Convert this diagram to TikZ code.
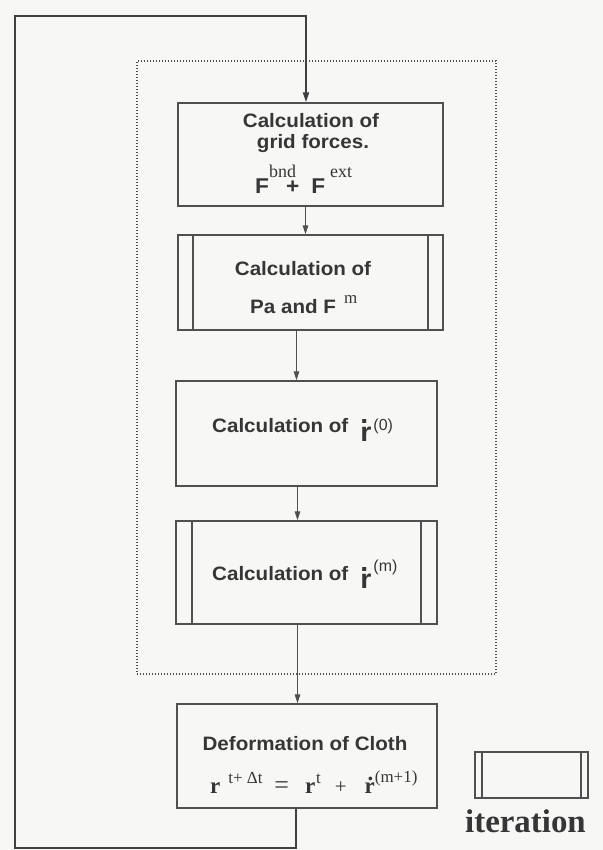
\documentclass[tikz,border=0pt]{standalone}
\usepackage{fontspec}
\usetikzlibrary{arrows.meta}
\newfontfamily\hv[FakeStretch=1.06]{Liberation Sans}
\newfontfamily\hvr{Liberation Sans}
\newfontfamily\tm{Liberation Serif}
\newcommand\hvbf{\hv\bfseries}
\newcommand\fsz[1]{\fontsize{#1}{#1}\selectfont}
\definecolor{lc}{HTML}{505050}
\definecolor{lk}{HTML}{404040}
\definecolor{tc}{HTML}{363636}
\definecolor{bgc}{HTML}{F7F7F5}
\begin{document}
\begin{tikzpicture}[x=1bp,y=-1bp,
  box/.style={draw=lc, line width=1.3bp, inner sep=0pt},
  dbl/.style={path picture={\draw[lc, line width=1.2bp]
      ([xshift=#1]path picture bounding box.north west) -- ([xshift=#1]path picture bounding box.south west)
      ([xshift=-#1]path picture bounding box.north east) -- ([xshift=-#1]path picture bounding box.south east);}},
  txt/.style={anchor=base west, inner sep=0pt, text=tc},
  ctxt/.style={anchor=base, inner sep=0pt, text=tc},
  arr/.style={draw=lc, line width=1.2bp, -{Triangle[length=9bp,width=5.5bp]}},
  loopline/.style={draw=lk, line width=2bp, -{Triangle[length=10bp,width=6bp]}},
  dotbox/.style={draw=lc, line width=1.6bp, dash pattern=on 1.4bp off 1.6bp, inner sep=0pt}]
\fill[bgc] (0,0) rectangle (603,850);
\useasboundingbox (0,0) rectangle (603,850);

% dotted group
\node[dotbox, minimum width=359bp, minimum height=613bp] (grp) at (316.5,367.5) {};

% boxes
\node[box, minimum width=265bp, minimum height=103bp] (b1) at (310.5,154.5) {};
\node[box, dbl=15bp, minimum width=265bp, minimum height=95bp] (b2) at (310.5,282.5) {};
\node[box, minimum width=261bp, minimum height=105bp] (b3) at (306.5,433.5) {};
\node[box, dbl=16bp, minimum width=261bp, minimum height=103bp] (b4) at (306.5,572.5) {};
\node[box, minimum width=260bp, minimum height=104bp] (b5) at (307,756) {};

% legend
\node[box, dbl=7bp, minimum width=113bp, minimum height=46bp] (leg) at (531.5,775) {};
\node[txt] (legt) at (465,832) {\tm\bfseries\fsz{33}iteration};

% texts box 1
\node[ctxt] (t1a) at (311,127) {\hvbf\fsz{19.5}Calculation of};
\node[ctxt] (t1b) at (313,148) {\hvbf\fsz{19.5}grid forces.};
\node[txt] (t1c) at (255,193) {\hvbf\fsz{21.5}F\rlap{\raisebox{16bp}{\tm\mdseries\fsz{18}bnd}}\hspace{17bp}+\hspace{12bp}F\hspace{5bp}\raisebox{16bp}{\tm\mdseries\fsz{18}ext}};

% texts box 2
\node[ctxt] (t2a) at (303,275) {\hvbf\fsz{19.5}Calculation of};
\node[txt] (t2b) at (250,313) {\hvbf\fsz{19.5}Pa and F\hspace{8bp}\raisebox{10bp}{\tm\mdseries\fsz{17}m}};

% texts box 3
\node[txt] (t3) at (212,432) {\hvbf\fsz{19.5}Calculation of\hspace{12bp}\raisebox{-9bp}{\fsz{27}\rlap{\raisebox{18bp}{.}}r}\hspace{2bp}\raisebox{2bp}{\hvr\mdseries\fsz{16}(0)}};

% texts box 4
\node[txt] (t4) at (212,580) {\hvbf\fsz{19.5}Calculation of\hspace{12bp}\raisebox{-8bp}{\fsz{27}\rlap{\raisebox{17bp}{.}}r}\hspace{2bp}\raisebox{9bp}{\hvr\mdseries\fsz{16}(m)}};

% texts box 5
\node[ctxt] (t5a) at (305,750) {\hvbf\fsz{19.5}Deformation of Cloth};
\node[txt] (t5b) at (210,793) {\tm\fsz{23}\textbf{r}\hspace{8bp}\raisebox{10bp}{\fsz{17}t+ Δt}\hspace{12bp}{\fsz{26}=}\hspace{16bp}\textbf{r}\hspace{1bp}\raisebox{10bp}{\fsz{17}t}\hspace{14bp}{\fsz{21}+}\hspace{18bp}\textbf{\rlap{\hspace{3bp}\raisebox{13bp}{.}}r}\raisebox{11bp}{\fsz{17}(m+1)}};

% connectors
\coordinate (bl) at (15,848);
\coordinate (tl) at (15,16);
\draw[arr] ([xshift=-5bp]b1.south) -- ([xshift=-5bp]b1.south |- b2.north);
\draw[arr] ([xshift=-14bp]b2.south) -- ([xshift=-14bp]b2.south |- b3.north);
\draw[arr] ([xshift=-9bp]b3.south) -- ([xshift=-9bp]b3.south |- b4.north);
\draw[arr] ([xshift=-9bp]b4.south) -- ([xshift=-9bp]b4.south |- b5.north);
\draw[loopline] ([xshift=-11bp]b5.south) |- (bl) -- (tl) -| ([xshift=-4.5bp]b1.north);
\end{tikzpicture}
\end{document}
